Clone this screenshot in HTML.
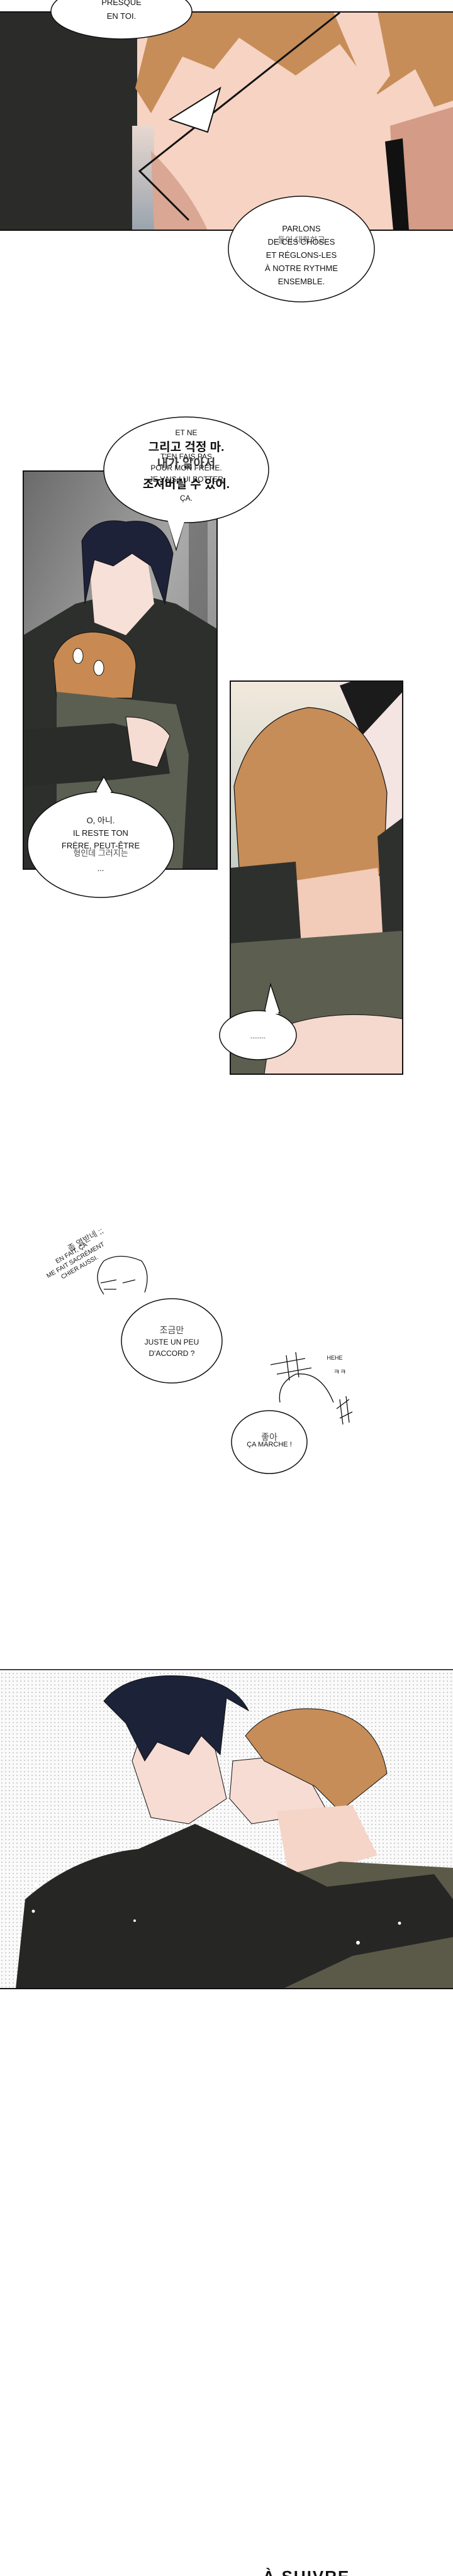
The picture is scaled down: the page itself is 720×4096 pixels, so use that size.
<!DOCTYPE html>
<html><head><meta charset="utf-8">
<style>
html,body{margin:0;padding:0;background:#fff;}
body{width:720px;height:4096px;position:relative;overflow:hidden;}
svg{position:absolute;left:0;top:0;}
text{font-family:"Liberation Sans","Noto Sans CJK KR",sans-serif;fill:#111;text-anchor:middle;}
</style></head><body>
<svg width="720" height="4096" viewBox="0 0 720 4096" xmlns="http://www.w3.org/2000/svg">
<defs>
<linearGradient id="g2" x1="0" y1="0" x2="1" y2="1"><stop offset="0" stop-color="#6a6a6a"/><stop offset="0.5" stop-color="#a8a8a8"/><stop offset="1" stop-color="#7a7a7a"/></linearGradient>
<linearGradient id="g3" x1="0" y1="0" x2="0" y2="1"><stop offset="0" stop-color="#f2e9dc"/><stop offset="0.6" stop-color="#b9c7c0"/><stop offset="1" stop-color="#7f9a9c"/></linearGradient>
<linearGradient id="strip" x1="0" y1="0" x2="0" y2="1"><stop offset="0" stop-color="#e8d8d0"/><stop offset="1" stop-color="#9aa4ae"/></linearGradient>
<pattern id="dots" width="6" height="6" patternUnits="userSpaceOnUse"><rect width="6" height="6" fill="#fafafa"/><circle cx="3" cy="3" r="0.8" fill="#9a9a9a"/></pattern>
</defs>

<!-- Panel 1 -->
<rect x="0" y="19" width="720" height="347" fill="#f6d3c3"/>
<rect x="0" y="19" width="218" height="347" fill="#2b2c2a"/>
<rect x="210" y="200" width="35" height="166" fill="url(#strip)"/>
<path d="M245 19 L720 19 L720 160 L690 170 L660 110 L600 150 L540 70 L470 120 L380 60 L340 110 L290 90 L240 180 L215 140 Z" fill="#c68d58"/>
<path d="M530 19 L600 19 L620 120 L590 160 Z" fill="#f6d3c3"/>
<path d="M620 200 L720 170 L720 366 L630 366 Z" fill="#d49b86"/>
<path d="M240 240 Q300 300 330 366 L245 366 Z" fill="#d9a793"/>
<path d="M612 225 L640 220 L650 366 L625 366 Z" fill="#111"/>
<path d="M540 20 L222 272 L300 350" stroke="#111" stroke-width="3" fill="none"/>
<path d="M270 190 L350 140 L330 210 Z" fill="#fff" stroke="#111" stroke-width="2"/>
<rect x="0" y="18" width="720" height="2" fill="#111"/>
<rect x="0" y="365" width="720" height="2" fill="#111"/>

<ellipse cx="193" cy="18" rx="112" ry="44" fill="#fff" stroke="#111" stroke-width="1.5"/>
<text x="193" y="8" font-size="13">PRESQUE</text>
<text x="193" y="30" font-size="13">EN TOI.</text>
<ellipse cx="479" cy="396" rx="116" ry="84" fill="#fff" stroke="#111" stroke-width="1.5"/>
<text x="479" y="368" font-size="13">PARLONS</text>
<text x="479" y="389" font-size="13">DE CES CHOSES</text>
<text x="479" y="386" font-size="13" opacity="0.7">둘이 대화하고</text>
<text x="479" y="410" font-size="13">ET RÉGLONS-LES</text>
<text x="479" y="431" font-size="13">À NOTRE RYTHME</text>
<text x="479" y="452" font-size="13">ENSEMBLE.</text>

<!-- Panel 2 -->
<rect x="37" y="749" width="308" height="633" fill="url(#g2)"/>
<rect x="300" y="749" width="30" height="480" fill="#5c5c5c" opacity="0.6"/>
<path d="M37 1010 L120 960 L200 940 L280 960 L345 1000 L345 1382 L37 1382 Z" fill="#2d2f2c"/>
<path d="M140 870 L230 860 L245 960 L200 1010 L150 990 Z" fill="#f7e0d8"/>
<path d="M130 860 Q150 820 200 830 Q260 820 275 880 L262 960 L240 900 L210 880 L180 900 L150 890 L135 960 Z" fill="#1d2238" stroke="#111" stroke-width="1"/>
<path d="M85 1050 Q100 1005 150 1005 Q215 1010 216 1060 L210 1110 L90 1110 Z" fill="#c88a52" stroke="#111" stroke-width="1"/>
<path d="M90 1100 L280 1120 L300 1200 L290 1382 L90 1382 Z" fill="#5b5f51"/>
<path d="M40 1160 L180 1150 L260 1170 L270 1230 L180 1240 L40 1250 Z" fill="#2a2c29"/>
<path d="M200 1140 Q250 1140 270 1170 L250 1220 L210 1210 Z" fill="#f5ddd4" stroke="#111" stroke-width="1"/>
<ellipse cx="124" cy="1043" rx="8" ry="12" fill="#fff" stroke="#111"/>
<ellipse cx="157" cy="1062" rx="8" ry="12" fill="#fff" stroke="#111"/>
<rect x="37" y="749" width="308" height="633" fill="none" stroke="#111" stroke-width="2"/>

<path d="M265 820 L280 874 L295 820 Z" fill="#fff" stroke="#111" stroke-width="1.5"/>
<ellipse cx="296" cy="747" rx="131" ry="84" fill="#fff" stroke="#111" stroke-width="1.5"/>
<path d="M266 826 L280 872 L294 826" fill="#fff"/>
<text x="296" y="692" font-size="12">ET NE</text>
<text x="296" y="717" font-size="19" font-weight="bold">그리고 걱정 마.</text>
<text x="296" y="730" font-size="12">T'EN FAIS PAS</text>
<text x="296" y="748" font-size="12">POUR MON FRÈRE.</text>
<text x="296" y="743" font-size="19" font-weight="bold" opacity="0.8">내가 알아서</text>
<text x="296" y="766" font-size="12">JE VAIS LUI BOTTER</text>
<text x="296" y="776" font-size="19" font-weight="bold">조져버릴 수 있어.</text>
<text x="296" y="796" font-size="12">ÇA.</text>

<path d="M150 1262 L165 1235 L180 1262 Z" fill="#fff" stroke="#111" stroke-width="1.5"/>
<ellipse cx="160" cy="1343" rx="116" ry="84" fill="#fff" stroke="#111" stroke-width="1.5"/>
<path d="M152 1264 L165 1238 L178 1264" fill="#fff"/>
<text x="160" y="1309" font-size="13">O, 아니.</text>
<text x="160" y="1329" font-size="13">IL RESTE TON</text>
<text x="160" y="1349" font-size="13">FRÈRE, PEUT-ÊTRE</text>
<text x="160" y="1361" font-size="13" opacity="0.75">형인데 그러지는</text>
<text x="160" y="1385" font-size="13">...</text>

<!-- Panel 3 -->
<rect x="366" y="1083" width="274" height="625" fill="url(#g3)"/>
<path d="M530 1083 L640 1083 L640 1480 L610 1420 L600 1250 L560 1140 Z" fill="#f4e4e2"/>
<path d="M540 1090 L560 1083 L640 1083 L640 1100 L575 1170 Z" fill="#1b1b1b"/>
<path d="M372 1250 Q400 1140 490 1125 Q590 1130 615 1260 L610 1380 L590 1410 L480 1430 L380 1380 Z" fill="#c68d58" stroke="#111" stroke-width="1.2"/>
<path d="M470 1400 L600 1380 L620 1500 L470 1520 Z" fill="#f2cbb9"/>
<path d="M366 1380 L470 1370 L480 1520 L366 1520 Z" fill="#2e302d"/>
<path d="M600 1330 L640 1300 L640 1520 L610 1520 Z" fill="#2e302d"/>
<path d="M366 1500 L640 1480 L640 1708 L366 1708 Z" fill="#5c5f50"/>
<path d="M430 1640 Q520 1600 640 1620 L640 1708 L420 1708 Z" fill="#f5d8ce" stroke="#111" stroke-width="1"/>
<rect x="366" y="1083" width="274" height="625" fill="none" stroke="#111" stroke-width="2"/>

<path d="M420 1610 L430 1565 L445 1610 Z" fill="#fff" stroke="#111" stroke-width="1.5"/>
<ellipse cx="410" cy="1646" rx="61" ry="39" fill="#fff" stroke="#111" stroke-width="1.5"/>
<path d="M422 1612 L430 1570 L443 1612" fill="#fff"/>
<text x="410" y="1651" font-size="11">........</text>

<!-- Doodles -->
<g transform="translate(115 1995) rotate(-30)">
<text x="0" y="0" font-size="10">EN FAIT, ÇA</text>
<text x="0" y="13" font-size="10">ME FAIT SACRÉMENT</text>
<text x="0" y="26" font-size="10">CHIER AUSSI.</text>
<text x="30" y="-6" font-size="13" opacity="0.8">좀 열받네 ;;</text>
</g>
<path d="M165 2058 Q145 2030 165 2005 Q190 1990 225 2005 Q240 2025 230 2055" stroke="#111" fill="none" stroke-width="1.3"/>
<path d="M160 2040 L185 2035 M195 2040 L215 2035 M165 2050 L185 2050" stroke="#111" stroke-width="1.3"/>
<ellipse cx="273" cy="2132" rx="80" ry="67" fill="#fff" stroke="#111" stroke-width="1.5"/>
<text x="273" y="2120" font-size="14" opacity="0.8">조금만</text>
<text x="273" y="2138" font-size="12">JUSTE UN PEU</text>
<text x="273" y="2156" font-size="12">D'ACCORD ?</text>
<path d="M430 2170 L485 2160 M440 2185 L495 2175 M455 2155 L460 2195 M470 2150 L475 2190" stroke="#111" stroke-width="1.3"/>
<text x="532" y="2162" font-size="9">HEHE</text>
<text x="540" y="2185" font-size="11">ㅋㅋ</text>
<path d="M445 2230 Q440 2200 470 2185 Q510 2180 530 2230" stroke="#111" fill="none" stroke-width="1.3"/>
<path d="M535 2240 L555 2225 M540 2255 L560 2245 M540 2225 L545 2265 M550 2220 L555 2262" stroke="#111" stroke-width="1.3"/>
<ellipse cx="428" cy="2293" rx="60" ry="50" fill="#fff" stroke="#111" stroke-width="1.5"/>
<text x="428" y="2290" font-size="14" opacity="0.8">좋아</text>
<text x="428" y="2300" font-size="11">ÇA MARCHE !</text>

<!-- Final panel -->
<rect x="0" y="2655" width="720" height="507" fill="url(#dots)"/>
<path d="M230 2740 L330 2730 L360 2860 L300 2900 L240 2890 L210 2800 Z" fill="#f7dcd3" stroke="#111" stroke-width="1"/>
<path d="M165 2705 Q200 2660 290 2665 Q370 2670 395 2720 L360 2700 L350 2790 L320 2760 L300 2790 L250 2770 L230 2800 L200 2740 Z" fill="#1c2238" stroke="#111" stroke-width="1"/>
<path d="M370 2800 L470 2790 L520 2880 L400 2900 L365 2860 Z" fill="#f7dcd3" stroke="#111" stroke-width="1"/>
<path d="M390 2760 Q430 2710 510 2718 Q600 2730 615 2820 L590 2840 L540 2880 L500 2840 L420 2800 Z" fill="#c68d58" stroke="#111" stroke-width="1"/>
<path d="M440 2880 L560 2870 L600 2950 L460 2990 Z" fill="#f5d5c7"/>
<path d="M420 2990 L540 2960 L720 2970 L720 3162 L420 3162 Z" fill="#5b5948"/>
<path d="M25 3162 L40 3020 Q120 2950 220 2940 L310 2900 Q420 2950 520 3000 L690 2980 L720 3020 L720 3080 L560 3110 L450 3162 Z" fill="#262624"/>
<circle cx="57" cy="2997" r="3" fill="#fff"/><circle cx="53" cy="3039" r="2.5" fill="#fff"/><circle cx="214" cy="3054" r="2" fill="#fff"/><circle cx="569" cy="3089" r="3" fill="#fff"/><circle cx="635" cy="3058" r="2.5" fill="#fff"/>
<rect x="0" y="2654" width="720" height="1.5" fill="#111"/>
<rect x="0" y="3161" width="720" height="2" fill="#111"/>

<text x="487" y="4106" font-size="26" font-weight="bold" style="letter-spacing:2px">À SUIVRE</text>
</svg>
</body></html>
